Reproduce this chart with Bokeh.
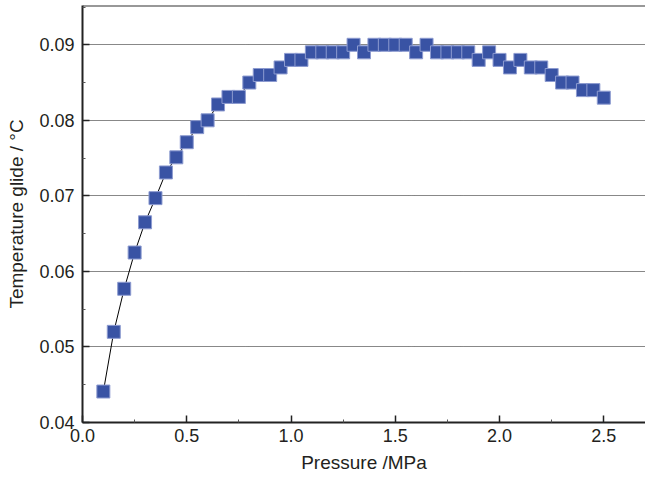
from bokeh.plotting import figure
from bokeh.models import FixedTicker, PrintfTickFormatter, ColumnDataSource, Span
from bokeh.embed import file_html
from bokeh.resources import INLINE

pressure = [0.10, 0.15, 0.20, 0.25, 0.30, 0.35, 0.40, 0.45, 0.50, 0.55,
            0.60, 0.65, 0.70, 0.75, 0.80, 0.85, 0.90, 0.95, 1.00, 1.05,
            1.10, 1.15, 1.20, 1.25, 1.30, 1.35, 1.40, 1.45, 1.50, 1.55,
            1.60, 1.65, 1.70, 1.75, 1.80, 1.85, 1.90, 1.95, 2.00, 2.05,
            2.10, 2.15, 2.20, 2.25, 2.30, 2.35, 2.40, 2.45, 2.50]
glide = [0.0441, 0.0520, 0.0577, 0.0625, 0.0665, 0.0697, 0.0731, 0.0751, 0.0771, 0.0791,
         0.0800, 0.0821, 0.0831, 0.0831, 0.0850, 0.0860, 0.0860, 0.0870, 0.0880, 0.0880,
         0.0890, 0.0890, 0.0890, 0.0890, 0.0900, 0.0890, 0.0900, 0.0900, 0.0900, 0.0900,
         0.0890, 0.0900, 0.0890, 0.0890, 0.0890, 0.0890, 0.0880, 0.0890, 0.0880, 0.0870,
         0.0880, 0.0870, 0.0870, 0.0860, 0.0850, 0.0850, 0.0840, 0.0840, 0.0830]

x_ticks = [0.0, 0.5, 1.0, 1.5, 2.0, 2.5]
y_ticks = [0.04, 0.05, 0.06, 0.07, 0.08, 0.09]

src = ColumnDataSource(dict(x=pressure, y=glide))

FONT = "Liberation Sans"
TXT = "#231f20"
Y_TOP = 0.09520

p = figure(width=645, height=479, output_backend="svg", toolbar_location=None,
           x_range=(0, 2.70), y_range=(0.04, Y_TOP),
           min_border_left=82, min_border_right=0, min_border_top=5, min_border_bottom=57,
           x_axis_label="Pressure /MPa", y_axis_label="Temperature glide / \u00b0C")
p.outline_line_color = None
p.background_fill_color = "white"
p.border_fill_color = "white"

p.xgrid.visible = False
p.ygrid.ticker = FixedTicker(ticks=y_ticks[1:])
p.ygrid.grid_line_color = "#111111"
p.ygrid.grid_line_dash = "1 1"
p.ygrid.grid_line_width = 1

p.add_layout(Span(location=Y_TOP, dimension="width", line_color="#333333", line_width=2))

p.line("x", "y", source=src, line_color="black", line_width=1)
p.scatter("x", "y", source=src, marker="square", size=13,
          fill_color="#3953a4", line_color="#8d9bd0", line_width=1)

for ax, ticks, fmt in ((p.xaxis[0], x_ticks, "%.1f"), (p.yaxis[0], y_ticks, "%.2f")):
    ax.ticker = FixedTicker(ticks=ticks, minor_ticks=[t + (ticks[1] - ticks[0]) / 2 for t in ticks])
    ax.formatter = PrintfTickFormatter(format=fmt)
    ax.major_tick_in = 7
    ax.major_tick_out = 0
    ax.minor_tick_in = 3
    ax.minor_tick_out = 0
    ax.axis_line_width = 2
    ax.axis_line_color = "#222222"
    ax.major_tick_line_color = "#222222"
    ax.minor_tick_line_color = "#555555"
    ax.major_tick_line_width = 1.5
    ax.major_label_text_font = FONT
    ax.major_label_text_font_size = "18px"
    ax.major_label_text_color = TXT
    ax.axis_label_text_font = FONT
    ax.axis_label_text_font_size = "19px"
    ax.axis_label_text_font_style = "normal"
    ax.axis_label_text_color = TXT

p.xaxis[0].major_label_standoff = 6
p.xaxis[0].axis_label_standoff = 7
p.yaxis[0].major_label_standoff = 8
p.yaxis[0].axis_label_standoff = 9

open("out.html", "w").write(file_html(p, INLINE))
